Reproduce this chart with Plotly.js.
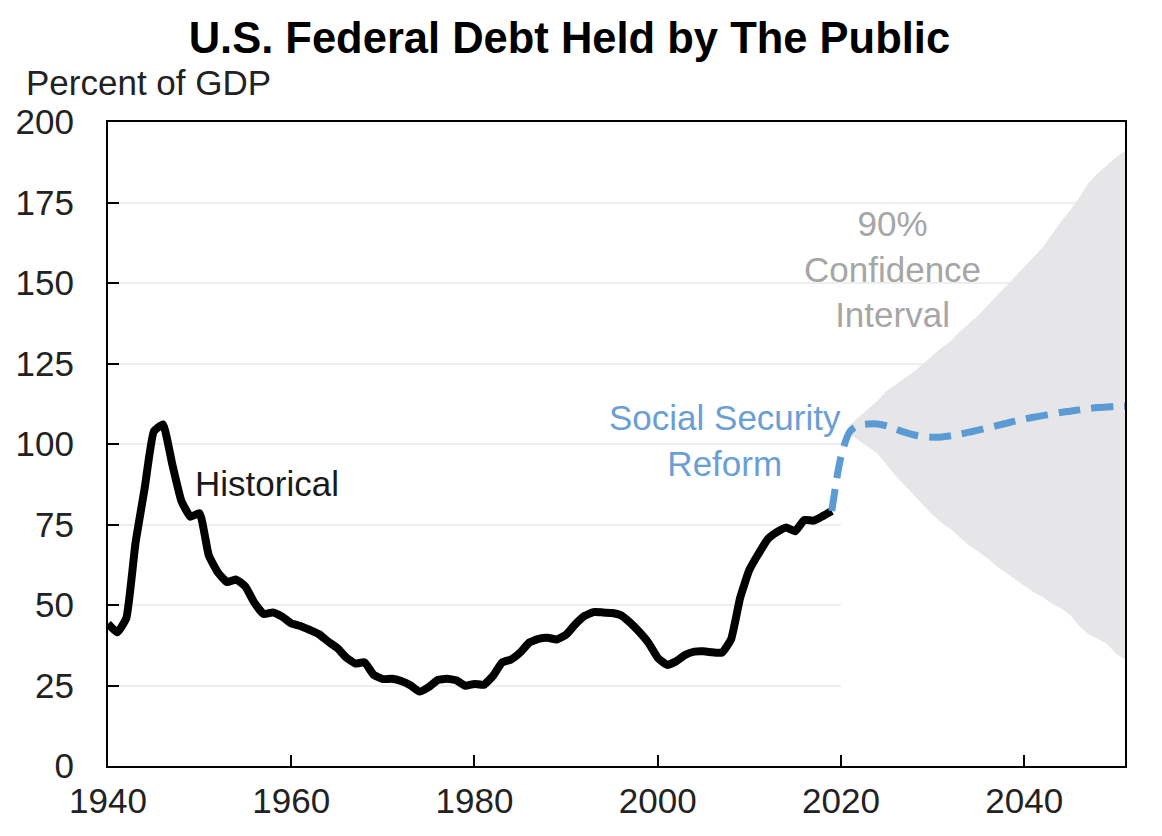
<!DOCTYPE html>
<html>
<head>
<meta charset="utf-8">
<script src="https://cdn.plot.ly/plotly-3.0.1.min.js"></script>
<style>
html,body{margin:0;padding:0;background:#fff;}
#chart{width:1162px;height:836px;}
</style>
</head>
<body>
<div id="chart"></div>
<script>
// Historical debt held by the public, percent of GDP
var histYears = [1940,1941,1942,1943,1944,1945,1946,1947,1948,1949,
  1950,1951,1952,1953,1954,1955,1956,1957,1958,1959,
  1960,1961,1962,1963,1964,1965,1966,1967,1968,1969,
  1970,1971,1972,1973,1974,1975,1976,1977,1978,1979,
  1980,1981,1982,1983,1984,1985,1986,1987,1988,1989,
  1990,1991,1992,1993,1994,1995,1996,1997,1998,1999,
  2000,2001,2002,2003,2004,2005,2006,2007,2008,2009,
  2010,2011,2012,2013,2014,2015,2016,2017,2018,2019];
var histDebt = [44.2,41.5,45.9,69.2,86.2,103.9,106.1,93.9,82.4,77.4,
  78.5,65.4,60.1,57.1,57.9,55.7,50.6,47.2,47.7,46.4,
  44.3,43.5,42.3,41.0,38.7,36.7,33.7,31.8,32.2,28.3,
  27.0,27.1,26.4,25.1,23.1,24.5,26.7,27.1,26.6,24.9,
  25.5,25.2,27.9,32.1,33.1,35.3,38.4,39.5,39.8,39.3,
  40.8,44.0,46.6,47.8,47.7,47.5,46.8,44.5,41.6,38.2,
  33.6,31.4,32.5,34.5,35.5,35.6,35.3,35.2,39.3,52.3,
  60.9,65.9,70.4,72.6,74.1,72.9,76.4,76.2,77.6,79.2];

// Projection under Social Security reform
var reformYears = [2019,2020,2021,2022,2023,2024,2025,2026,2027,2028,2029,
  2030,2031,2032,2033,2034,2035,2036,2037,2038,2039,
  2040,2041,2042,2043,2044,2045,2046,2047,2048,2049,2050,2051];
var reformDebt = [79.2,96,104,105.8,106.2,106.2,105.6,104.6,103.6,102.8,102.3,
  102.1,102.2,102.6,103.1,103.7,104.3,105.0,105.7,106.4,107.1,
  107.7,108.3,108.8,109.3,109.8,110.2,110.6,111.0,111.3,111.5,111.7,111.8];

// 90% confidence interval
var bandYears = [2020,2021,2022,2023,2024,2025,2026,2027,2028,2029,
  2030,2031,2032,2033,2034,2035,2036,2037,2038,2039,
  2040,2041,2042,2043,2044,2045,2046,2047,2048,2049,2050,2051];
var bandUpper = [98,106,108.5,111,113.5,116.5,118.5,120.5,122.5,125,
  127.5,130,132,135,137.5,140,143,146,149,152,
  155,158,161,165,169,172.5,176.5,181,184,186.5,189,191];
var bandLower = [98,103,101,99,97,93.5,90,87,84,81,
  78,75.5,73.5,71,68.5,66.5,64.5,62,60,58,
  56,54,52.5,50.5,49,47,43.5,41,39.5,38,35,33];

var yTicks = [0,25,50,75,100,125,150,175,200];
var xTicks = [1940,1960,1980,2000,2020,2040];

var FONT = '"Liberation Sans", Arial, sans-serif';
var FS = 35;

var traces = [
  {x: bandYears, y: bandLower, type: 'scatter', mode: 'lines',
   fill: 'tozeroy', fillcolor: '#ffffff', line: {width: 0, color: 'rgba(0,0,0,0)'},
   hoverinfo: 'skip', showlegend: false},
  {x: bandYears, y: bandUpper, type: 'scatter', mode: 'lines',
   fill: 'tonexty', fillcolor: '#e6e6e8', line: {width: 0, color: 'rgba(0,0,0,0)'},
   hoverinfo: 'skip', showlegend: false},
  {x: histYears, y: histDebt, type: 'scatter', mode: 'lines',
   line: {color: '#000000', width: 8, shape: 'spline', smoothing: 0.4}, showlegend: false},
  {x: reformYears, y: reformDebt, type: 'scatter', mode: 'lines',
   line: {color: '#5b9bd5', width: 7, dash: '22px,11px', shape: 'spline', smoothing: 0.8},
   showlegend: false}
];

var layout = {
  width: 1162, height: 836,
  paper_bgcolor: '#ffffff', plot_bgcolor: '#ffffff',
  margin: {l: 108, r: 37, t: 122, b: 70},
  font: {family: FONT, color: '#222222', size: FS},
  title: {text: '<b>U.S. Federal Debt Held by The Public</b>',
    font: {family: FONT, size: 43.5, color: '#000000'},
    xref: 'container', yref: 'container', x: 0.49, y: 0.955,
    xanchor: 'center', yanchor: 'middle'},
  xaxis: {range: [1940, 2051], tickvals: xTicks, ticktext: xTicks.map(String),
    ticks: 'inside', ticklen: 11, tickwidth: 2, tickcolor: '#000',
    showline: true, linecolor: '#000', linewidth: 2, mirror: true,
    showgrid: false, zeroline: false, ticklabelstandoff: 3,
    tickfont: {family: FONT, size: FS, color: '#222'}},
  yaxis: {range: [0, 200], tickvals: yTicks, ticktext: yTicks.map(String),
    ticks: 'inside', ticklen: 11, tickwidth: 2, tickcolor: '#000',
    showline: true, linecolor: '#000', linewidth: 2, mirror: true,
    showgrid: true, gridcolor: '#eeeeee', gridwidth: 2, zeroline: false,
    ticklabelstandoff: 25,
    tickfont: {family: FONT, size: FS, color: '#222'}},
  annotations: [
    {text: 'Percent of GDP', xref: 'paper', yref: 'paper', x: -0.083, y: 1.062,
     xanchor: 'left', yanchor: 'middle', showarrow: false,
     font: {family: FONT, size: FS, color: '#222'}},
    {text: 'Historical', xref: 'x', yref: 'y', x: 1949.3, y: 87.6,
     xanchor: 'left', yanchor: 'middle', showarrow: false,
     font: {family: FONT, size: FS, color: '#1a1a1a'}},
    {text: 'Social Security<br>Reform', xref: 'x', yref: 'y', x: 2007.3, y: 101.2,
     xanchor: 'center', yanchor: 'middle', showarrow: false, align: 'center',
     font: {family: FONT, size: FS, color: '#6a9fd6'}},
    {text: '90%<br>Confidence<br>Interval', xref: 'x', yref: 'y', x: 2025.6, y: 154.3,
     xanchor: 'center', yanchor: 'middle', showarrow: false, align: 'center',
     font: {family: FONT, size: FS, color: '#a6a6a6'}}
  ]
};

Plotly.newPlot('chart', traces, layout, {staticPlot: true, displayModeBar: false});
</script>
</body>
</html>
